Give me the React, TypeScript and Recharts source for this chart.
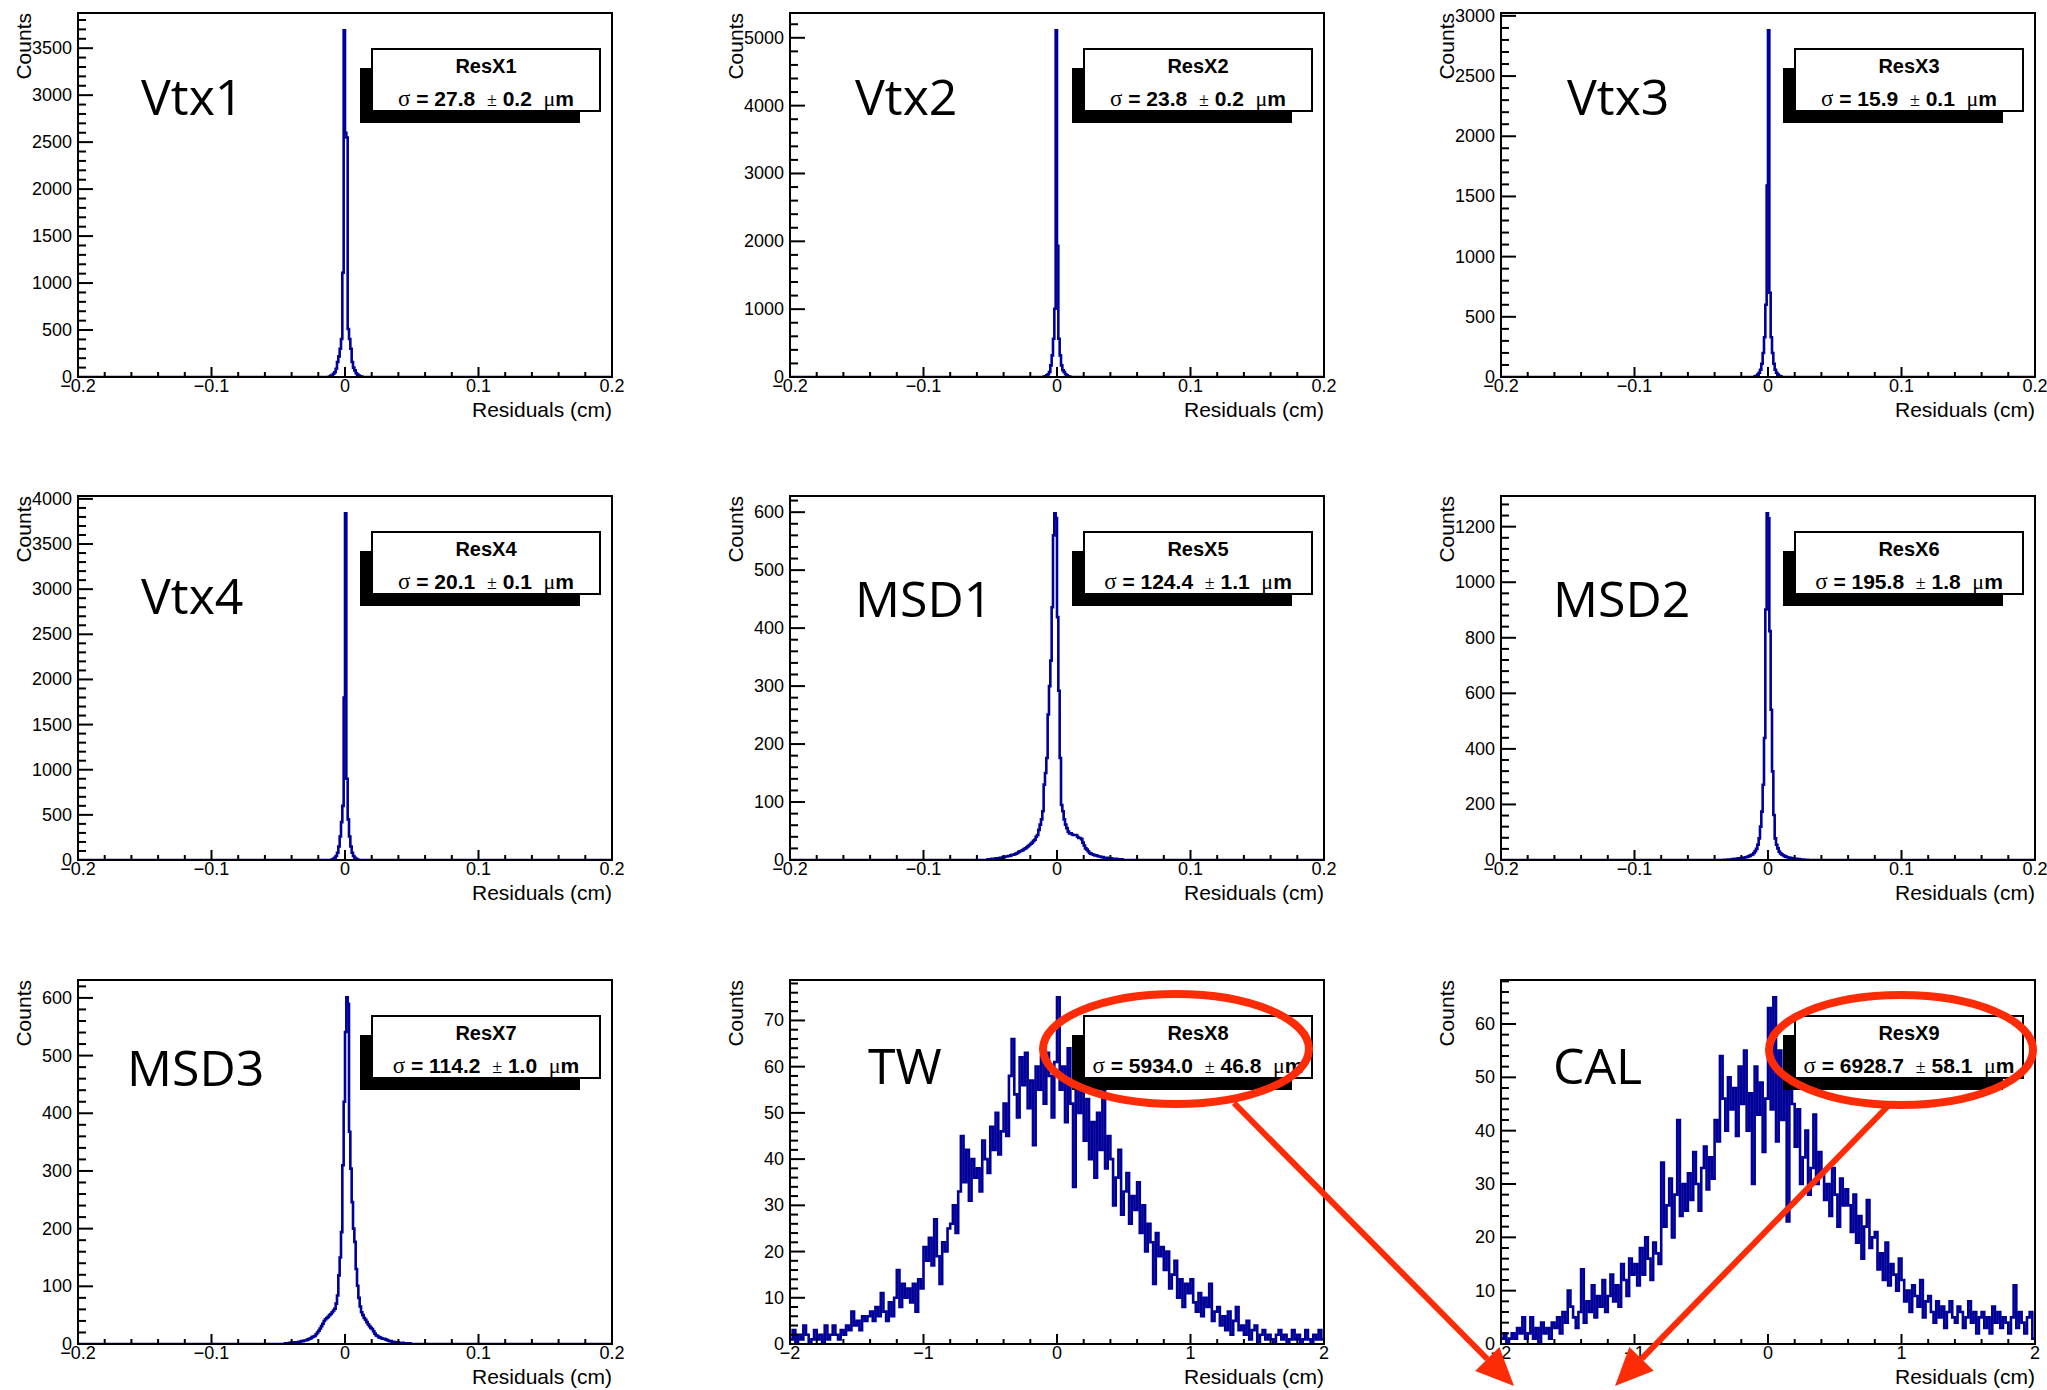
import React from "react";
import { LineChart, Line, XAxis, YAxis, ReferenceArea } from "recharts";

const FONT = "'Liberation Sans', Arial, Helvetica, sans-serif";
const SERIF = "'Liberation Serif', 'Times New Roman', serif";
const BLUE = "#000099";
const RED = "#fe2c06";

// bin widths (cm)
const BIN_NARROW = 0.001;
const BIN_WIDE = 0.02;

// each histogram: index of first bin (x = index * bin width) and its counts
const vtx1Start = -12;
const vtx1Counts = [6, 12, 20, 35, 50, 88, 159, 220, 300, 405, 1110, 3690, 2600, 2550, 511, 405, 300, 159, 100, 70, 40, 25, 15, 8, 4];

const vtx2Start = -10;
const vtx2Counts = [6, 12, 25, 40, 74, 172, 319, 564, 1005, 5110, 1935, 564, 319, 172, 100, 74, 40, 25, 12, 6];

const vtx3Start = -10;
const vtx3Counts = [5, 10, 20, 35, 60, 110, 200, 330, 600, 1590, 2880, 700, 330, 200, 110, 60, 35, 20, 10, 5];

const vtx4Start = -10;
const vtx4Counts = [5, 12, 25, 45, 80, 150, 260, 420, 600, 1800, 3840, 900, 450, 260, 150, 80, 45, 25, 12, 5];

const msd1Start = -52;
const msd1Counts = [
  1, 1, 1, 2, 2, 2, 3, 3, 3, 4, 4, 5, 5, 6, 6, 7, 7, 8, 9, 9, 10, 11, 12, 14, 15, 16, 17, 19, 20, 22, 24, 26,
  28, 30, 33, 35, 40, 43, 52, 61, 70, 84, 130, 150, 176, 251, 300, 344, 436, 560, 598, 590,
  419, 292, 176, 95, 84, 70, 61, 55, 49, 46, 46, 44, 43, 43, 43, 40, 38, 38, 36, 30, 25, 20, 18, 15, 12,
  11, 10, 9, 8, 8, 7, 6, 6, 5, 5, 4, 4, 4, 3, 3, 3, 2, 2, 2, 2, 1, 1, 1, 1,
];

const msd2Start = -33;
const msd2Counts = [
  1, 1, 1, 2, 2, 2, 3, 3, 4, 4, 5, 6, 6, 7, 8, 9, 10, 11, 13, 15,
  18, 20, 25, 32, 40, 55, 78, 120, 174, 271,
  439, 902, 1248, 1230, 824, 541, 319, 162, 78, 55, 42, 30, 24,
  20, 17, 14, 12, 10, 9, 8, 7, 6, 5, 4, 4, 3, 3, 2, 2, 2, 1, 1, 1,
];

const msd3Start = -45;
const msd3Counts = [
  1, 1, 1, 2, 2, 2, 2, 3, 3, 3, 4, 4, 5, 5, 6, 6, 7, 8, 9, 10, 12, 13, 14, 17, 20, 23, 27, 31, 35, 40, 43,
  45, 47, 50, 52, 55, 58, 61, 70, 84, 119, 150, 194, 310, 420,
  541, 601, 590, 368, 304, 246, 200, 177, 130, 101, 80, 65, 55, 50, 45, 42, 38, 34, 31, 28, 26, 22, 18,
  15, 14, 12, 11, 10, 9, 9, 8, 7, 6, 5, 5, 4, 4, 3, 3, 3, 2, 2, 2, 2, 1, 1, 1, 1, 1,
];

const twStart = -100;
const twCounts = [
  1, 3, 0, 2, 1, 4, 2, 0, 1, 3,
  1, 2, 0, 4, 1, 2, 4, 2, 1, 3,
  2, 4, 3, 7, 4, 5, 3, 6, 5, 6,
  7, 5, 8, 6, 11, 7, 5, 9, 6, 10,
  16, 8, 13, 10, 12, 9, 13, 7, 14, 12,
  21, 18, 23, 17, 27, 19, 13, 22, 20, 25,
  26, 30, 24, 33, 45, 35, 42, 31, 40, 36,
  38, 33, 44, 40, 37, 47, 42, 50, 41, 46,
  52, 45, 58, 66, 54, 49, 62, 56, 63, 51,
  57, 43, 60, 55, 62, 52, 63, 58, 49, 61,
  75, 55, 60, 48, 64, 52, 34, 58, 50, 60,
  44, 53, 40, 48, 36, 50, 42, 55, 38, 45,
  40, 30, 36, 42, 28, 33, 37, 26, 32, 29,
  35, 24, 30, 20, 26, 22, 13, 24, 19, 21,
  16, 20, 12, 15, 18, 10, 14, 8, 13, 11,
  14, 9, 7, 11, 6, 10, 8, 13, 5, 7,
  8, 4, 6, 3, 7, 2, 5, 8, 3, 4,
  2, 5, 1, 3, 4, 0, 2, 3, 1, 2,
  1, 0, 2, 3, 1, 2, 0, 1, 3, 1,
  2, 0, 1, 3, 1, 0, 2, 1, 3, 1,
];

const calStart = -100;
const calCounts = [
  1, 2, 0, 1, 2, 1, 3, 2, 5, 1,
  2, 5, 1, 3, 0, 4, 2, 3, 1, 4,
  3, 5, 2, 6, 4, 10, 7, 5, 3, 6,
  14, 4, 8, 6, 11, 5, 9, 7, 12, 6,
  9, 13, 8, 11, 7, 15, 12, 9, 16, 13,
  15, 11, 18, 13, 20, 16, 12, 19, 17, 15,
  34, 22, 26, 31, 20, 28, 42, 24, 30, 25,
  32, 27, 36, 30, 25, 33, 37, 29, 35, 31,
  42, 38, 54, 46, 40, 50, 44, 48, 39, 52,
  45, 55, 40, 47, 30, 52, 43, 49, 36, 46,
  63, 44, 65, 38, 55, 42, 50, 23, 48, 45,
  37, 44, 30, 35, 40, 28, 33, 43, 30, 36,
  32, 27, 30, 24, 33, 28, 22, 31, 26, 29,
  26, 21, 28, 19, 24, 16, 22, 27, 18, 20,
  21, 14, 17, 12, 19, 11, 15, 13, 10, 16,
  12, 8, 10, 6, 11, 9, 7, 12, 5, 8,
  9, 6, 4, 8, 5, 7, 3, 6, 8, 5,
  4, 7, 6, 3, 5, 8, 4, 6, 2, 5,
  6, 3, 5, 2, 7, 4, 6, 3, 5, 4,
  2, 5, 11, 3, 6, 4, 2, 5, 6, 1,
];

// tick labels
const narrowXMajor = [-0.2, -0.1, 0, 0.1, 0.2];
const wideXMajor = [-2, -1, 0, 1, 2];
const vtx1YMajor = [0, 500, 1000, 1500, 2000, 2500, 3000, 3500];
const vtx2YMajor = [0, 1000, 2000, 3000, 4000, 5000];
const vtx3YMajor = [0, 500, 1000, 1500, 2000, 2500, 3000];
const vtx4YMajor = [0, 500, 1000, 1500, 2000, 2500, 3000, 3500, 4000];
const msd1YMajor = [0, 100, 200, 300, 400, 500, 600];
const msd2YMajor = [0, 200, 400, 600, 800, 1000, 1200];
const msd3YMajor = [0, 100, 200, 300, 400, 500, 600];
const twYMajor = [0, 10, 20, 30, 40, 50, 60, 70];
const calYMajor = [0, 10, 20, 30, 40, 50, 60];

const FRAME_W = 534;
const FRAME_H = 364;
const COLS = [78, 790, 1501];
const ROWS = [13, 496, 980];
const PAD_L = 70;
const PAD_T = 10;

const round = (v: number) => Math.round(v * 1e6) / 1e6;

const stepTicks = (lo: number, hi: number, step: number) => {
  const out: number[] = [];
  const n = Math.floor((hi - lo) / step + 1e-6);
  for (let i = 0; i <= n; i++) out.push(round(lo + i * step));
  return out;
};

const histPoints = (start: number, w: number, counts: number[], lo: number, hi: number) => {
  const pts: { x: number; y: number }[] = [];
  if (round(start * w) > lo) pts.push({ x: lo, y: 0 });
  counts.forEach((c, i) => pts.push({ x: round((start + i) * w), y: c }));
  const end = round((start + counts.length) * w);
  if (end < hi) {
    pts.push({ x: end, y: 0 });
    pts.push({ x: hi, y: 0 });
  } else {
    pts.push({ x: hi, y: counts[counts.length - 1] });
  }
  return pts;
};

const fmt = (v: number) => (v === 0 ? "0" : (v < 0 ? "\u2212" : "") + String(Math.abs(v)));
const isIn = (arr: number[], v: number) => arr.some((m) => Math.abs(m - v) < 1e-9);

const XTick = ({ x, y, payload, majors }: any) => {
  const major = isIn(majors, payload.value);
  return (
    <g>
      <line x1={x} x2={x} y1={y} y2={y - (major ? 10 : 5)} stroke="#000" strokeWidth={2} />
      {major && (
        <text x={x} y={y + 15} textAnchor="middle" fontSize={18} fontFamily={FONT} fill="#000">
          {fmt(payload.value)}
        </text>
      )}
    </g>
  );
};

const YTick = ({ x, y, payload, majors }: any) => {
  const major = isIn(majors, payload.value);
  return (
    <g>
      <line x1={x} x2={x + (major ? 15 : 8)} y1={y} y2={y} stroke="#000" strokeWidth={2} />
      {major && (
        <text x={x - 6} y={y + 6} textAnchor="end" fontSize={18} fontFamily={FONT} fill="#000">
          {payload.value}
        </text>
      )}
    </g>
  );
};

const Panel = ({ p }: any) => {
  const left = COLS[p.col] - PAD_L;
  const top = ROWS[p.row] - PAD_T;
  const W = FRAME_W + PAD_L + 15;
  const H = FRAME_H + PAD_T + 50;
  const data = histPoints(p.start, p.bin, p.counts, p.lo, p.hi);
  const yMax = Math.max(...p.counts) * 1.05;
  const xTicks = stepTicks(p.lo, p.hi, p.xMinor);
  const yTicks = stepTicks(0, yMax, p.yMinor);
  const bx = PAD_L + 294;
  const by = PAD_T + 36;
  const bw = 228;
  const bh = 62;
  return (
    <div style={{ position: "absolute", left, top, width: W, height: H }}>
      <LineChart width={W} height={H} data={data} margin={{ top: PAD_T, right: 15, left: 0, bottom: 0 }}>
        <XAxis
          type="number"
          dataKey="x"
          domain={[p.lo, p.hi]}
          allowDataOverflow
          ticks={xTicks}
          interval={0}
          height={50}
          tickSize={0}
          tickMargin={0}
          tickLine={false}
          axisLine={{ stroke: "#000", strokeWidth: 2 }}
          tick={(t: any) => <XTick {...t} majors={p.xMajor} />}
        />
        <YAxis
          type="number"
          domain={[0, yMax]}
          allowDataOverflow
          ticks={yTicks}
          interval={0}
          width={PAD_L}
          tickSize={0}
          tickMargin={0}
          tickLine={false}
          axisLine={{ stroke: "#000", strokeWidth: 2 }}
          tick={(t: any) => <YTick {...t} majors={p.yMajor} />}
        />
        <ReferenceArea x1={p.lo} x2={p.hi} y1={0} y2={yMax} fill="none" stroke="#000" strokeWidth={2} ifOverflow="visible" />
        <Line
          type="stepAfter"
          dataKey="y"
          stroke={BLUE}
          strokeWidth={2.6}
          dot={false}
          activeDot={false}
          isAnimationActive={false}
        />
      </LineChart>
      <svg width={W} height={H} style={{ position: "absolute", left: 0, top: 0, overflow: "visible", pointerEvents: "none" }}>
        <text
          transform={`translate(${PAD_L - 47}, ${PAD_T}) rotate(-90)`}
          textAnchor="end"
          fontSize={21}
          fontFamily={FONT}
        >
          Counts
        </text>
        <text x={PAD_L + FRAME_W} y={PAD_T + FRAME_H + 40} textAnchor="end" fontSize={21} fontFamily={FONT}>
          Residuals (cm)
        </text>
        <text x={PAD_L + p.labelDx} y={PAD_T + p.labelDy} fontSize={50} fontFamily="'Open Sans', sans-serif">
          {p.name}
        </text>
        <rect x={bx - 12} y={by + 19} width={220} height={bh - 7} fill="#000" />
        <rect x={bx} y={by} width={bw} height={bh} fill="#fff" stroke="#000" strokeWidth={2} />
        <text x={bx + bw / 2} y={by + 24} textAnchor="middle" fontSize={20} fontWeight="bold" fontFamily={FONT}>
          {p.stat}
        </text>
        <text
          x={bx + bw / 2}
          y={by + 57}
          textAnchor="middle"
          fontSize={21}
          fontWeight="bold"
          fontFamily={FONT}
          style={{ whiteSpace: "pre" }}
        >
          <tspan fontFamily={SERIF} fontWeight="normal" fontSize={23}>σ</tspan>
          <tspan>{` = ${p.sigma}  `}</tspan>
          <tspan fontFamily={SERIF} fontWeight="normal" fontSize={18}>±</tspan>
          <tspan>{` ${p.err}  `}</tspan>
          <tspan fontFamily={SERIF} fontWeight="normal" fontSize={22}>μ</tspan>
          <tspan>m</tspan>
        </text>
      </svg>
    </div>
  );
};

const narrow = { bin: BIN_NARROW, lo: -0.2, hi: 0.2, xMajor: narrowXMajor, xMinor: 0.02 };
const wide = { bin: BIN_WIDE, lo: -2, hi: 2, xMajor: wideXMajor, xMinor: 0.2 };

const panels = [
  { ...narrow, name: "Vtx1", stat: "ResX1", sigma: "27.8", err: "0.2", start: vtx1Start, counts: vtx1Counts, yMajor: vtx1YMajor, yMinor: 100, col: 0, row: 0, labelDx: 63, labelDy: 102 },
  { ...narrow, name: "Vtx2", stat: "ResX2", sigma: "23.8", err: "0.2", start: vtx2Start, counts: vtx2Counts, yMajor: vtx2YMajor, yMinor: 200, col: 1, row: 0, labelDx: 65, labelDy: 102 },
  { ...narrow, name: "Vtx3", stat: "ResX3", sigma: "15.9", err: "0.1", start: vtx3Start, counts: vtx3Counts, yMajor: vtx3YMajor, yMinor: 100, col: 2, row: 0, labelDx: 66, labelDy: 102 },
  { ...narrow, name: "Vtx4", stat: "ResX4", sigma: "20.1", err: "0.1", start: vtx4Start, counts: vtx4Counts, yMajor: vtx4YMajor, yMinor: 100, col: 0, row: 1, labelDx: 63, labelDy: 118 },
  { ...narrow, name: "MSD1", stat: "ResX5", sigma: "124.4", err: "1.1", start: msd1Start, counts: msd1Counts, yMajor: msd1YMajor, yMinor: 20, col: 1, row: 1, labelDx: 65, labelDy: 121 },
  { ...narrow, name: "MSD2", stat: "ResX6", sigma: "195.8", err: "1.8", start: msd2Start, counts: msd2Counts, yMajor: msd2YMajor, yMinor: 40, col: 2, row: 1, labelDx: 52, labelDy: 121 },
  { ...narrow, name: "MSD3", stat: "ResX7", sigma: "114.2", err: "1.0", start: msd3Start, counts: msd3Counts, yMajor: msd3YMajor, yMinor: 20, col: 0, row: 2, labelDx: 49, labelDy: 106 },
  { ...wide, name: "TW", stat: "ResX8", sigma: "5934.0", err: "46.8", start: twStart, counts: twCounts, yMajor: twYMajor, yMinor: 2, col: 1, row: 2, labelDx: 78, labelDy: 104 },
  { ...wide, name: "CAL", stat: "ResX9", sigma: "6928.7", err: "58.1", start: calStart, counts: calCounts, yMajor: calYMajor, yMinor: 2, col: 2, row: 2, labelDx: 52, labelDy: 104 },
];

const Arrow = ({ x1, y1, x2, y2 }: any) => {
  const len = Math.hypot(x2 - x1, y2 - y1);
  const ux = (x2 - x1) / len;
  const uy = (y2 - y1) / len;
  const bx = x2 - ux * 38;
  const by = y2 - uy * 38;
  const nx = -uy * 17;
  const ny = ux * 17;
  return (
    <g>
      <line x1={x1} y1={y1} x2={bx} y2={by} stroke={RED} strokeWidth={6} />
      <polygon points={`${x2},${y2} ${bx + nx},${by + ny} ${bx - nx},${by - ny}`} fill={RED} />
    </g>
  );
};

export default function App() {
  return (
    <div style={{ position: "absolute", left: 0, top: 0, width: 2047, height: 1390, background: "#fff", overflow: "hidden" }}>
      {panels.map((p) => (
        <Panel key={p.name} p={p} />
      ))}
      {/* highlight annotations */}
      <svg width={2047} height={1390} style={{ position: "absolute", left: 0, top: 0, pointerEvents: "none" }}>
        <ellipse cx={1176} cy={1049} rx={133} ry={55} fill="none" stroke={RED} strokeWidth={8} />
        <ellipse cx={1901} cy={1050} rx={132} ry={55} fill="none" stroke={RED} strokeWidth={8} />
        <Arrow x1={1234} y1={1103} x2={1514} y2={1386} />
        <Arrow x1={1889} y1={1105} x2={1615} y2={1386} />
      </svg>
    </div>
  );
}
